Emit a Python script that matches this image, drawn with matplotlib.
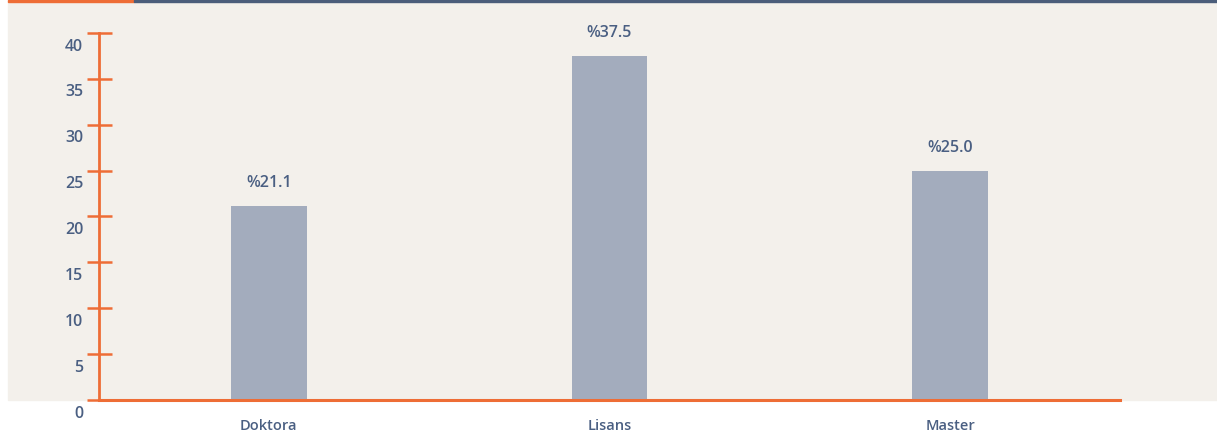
import matplotlib.pyplot as plt
from matplotlib.patches import Rectangle
import matplotlib.transforms as mtransforms

# data
categories = ['Doktora', 'Lisans', 'Master']
values = [21.1, 37.5, 25.0]
value_labels = ['%21.1', '%37.5', '%25.0']
y_ticks = [0, 5, 10, 15, 20, 25, 30, 35, 40]

ORANGE = '#ee6d36'
TEXT = '#4a5f82'
BAR = '#a3acbd'
BG = '#f3f0eb'
DARK = '#4b5d7a'

plt.rcParams['font.family'] = ['Open Sans', 'DejaVu Sans']

W, H = 1217, 440
fig = plt.figure(figsize=(W / 100, H / 100), dpi=100)

# beige panel and top strip
fig.patches.append(Rectangle((8 / W, 40 / H), (W - 8) / W, (H - 42) / H,
                             transform=fig.transFigure, color=BG, zorder=-10))
fig.patches.append(Rectangle((8 / W, (H - 2.5) / H), 126 / W, 2.5 / H,
                             transform=fig.transFigure, color=ORANGE, zorder=-5))
fig.patches.append(Rectangle((134 / W, (H - 2.5) / H), (W - 134) / W, 2.5 / H,
                             transform=fig.transFigure, color=DARK, zorder=-5))

ax = fig.add_axes([98.5 / W, 40 / H, (1120.5 - 98.5) / W, (400 - 33) / H])
ax.patch.set_visible(False)

x = range(len(categories))
ax.bar(x, values, width=76 / 341, color=BAR, zorder=2)
for xi, v, lab in zip(x, values, value_labels):
    ax.annotate(lab, (xi, v), xytext=(0, 15), textcoords='offset pixels',
                ha='center', va='bottom', fontsize=11.5, fontweight='semibold',
                color=TEXT)

ax.set_xlim(-0.5, 2.5)
ax.set_ylim(0, 40)
ax.set_yticks(y_ticks)
ax.set_xticks(list(x))
ax.set_xticklabels(categories)

for s in ['top', 'right']:
    ax.spines[s].set_visible(False)
ax.spines['left'].set_color(ORANGE)
ax.spines['left'].set_linewidth(2.0)
ax.spines['bottom'].set_color(ORANGE)
ax.spines['bottom'].set_linewidth(2.2)
ax.spines['bottom'].set_zorder(3)

ax.tick_params(axis='y', direction='inout', length=18, width=1.8, color=ORANGE,
               labelcolor=TEXT, labelsize=11.5, pad=2)
ax.tick_params(axis='x', length=0, labelcolor=TEXT, labelsize=10.5, pad=14)
for t in ax.get_xticklabels() + ax.get_yticklabels():
    t.set_fontweight('semibold')

offset = mtransforms.ScaledTranslation(0, -4 / 72, fig.dpi_scale_trans)
for t in ax.get_yticklabels():
    t.set_verticalalignment('top')
    t.set_transform(t.get_transform() + offset)

fig.savefig('out.png', dpi=100)
